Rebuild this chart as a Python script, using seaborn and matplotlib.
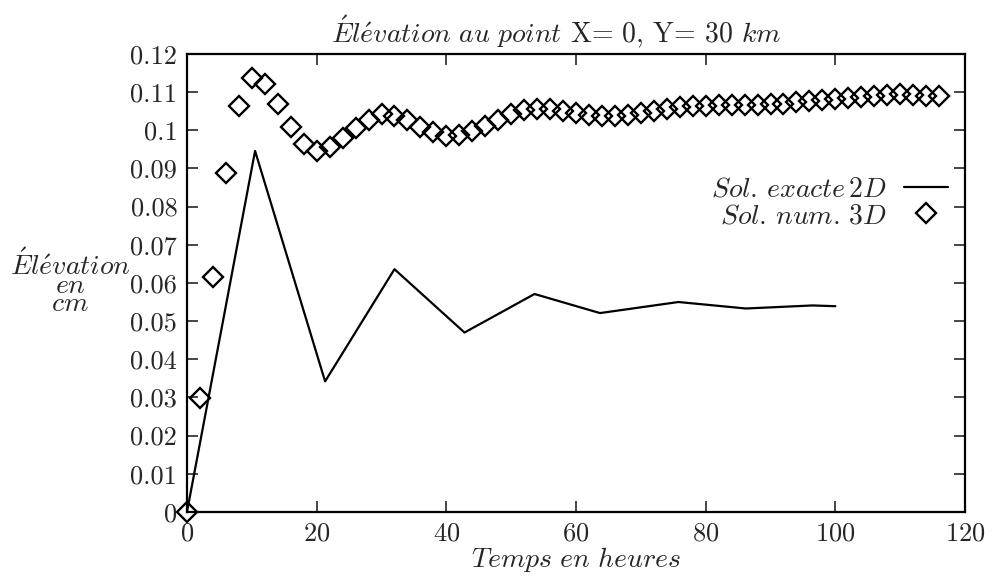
import matplotlib
matplotlib.use("Agg")
import matplotlib.pyplot as plt
import numpy as np
import pandas as pd
import seaborn as sns

# exact 2D solution (piecewise linear curve)
t_exact = [0, 10.5, 21.3, 32.0, 42.8, 53.6, 63.7, 75.8, 86.2, 96.5, 100]
h_exact = [0.0, 0.0946, 0.0342, 0.0636, 0.0470, 0.0571, 0.0521, 0.0550, 0.0533, 0.0541, 0.0539]

# numerical 3D solution, one point every 2 hours
t_num = list(range(0, 117, 2))
h_num = [0.0, 0.0298, 0.0616, 0.0888, 0.1063, 0.1137, 0.1122, 0.1069, 0.1008, 0.0964,
         0.0945, 0.0955, 0.0980, 0.1005, 0.1028, 0.1043, 0.1037, 0.1028, 0.1009, 0.0995,
         0.0986, 0.0988, 0.0997, 0.1012, 0.1028, 0.1042, 0.1052, 0.1056, 0.1055, 0.1050,
         0.1045, 0.1040, 0.1037, 0.1037, 0.1040, 0.1045, 0.1050, 0.1055, 0.1060, 0.1063,
         0.1065, 0.1066, 0.1066, 0.1066, 0.1066, 0.1068, 0.1070, 0.1073, 0.1076, 0.1079,
         0.1082, 0.1085, 0.1088, 0.1091, 0.1093, 0.1094, 0.1093, 0.1091, 0.1089]

xticks = [0, 20, 40, 60, 80, 100, 120]
yticks = [0, 0.01, 0.02, 0.03, 0.04, 0.05, 0.06, 0.07, 0.08, 0.09, 0.1, 0.11, 0.12]
yticklabels = ["0", "0.01", "0.02", "0.03", "0.04", "0.05", "0.06", "0.07", "0.08",
               "0.09", "0.1", "0.11", "0.12"]

sns.set_style("ticks")
plt.rcParams["font.family"] = ["cmr10", "DejaVu Serif"]
plt.rcParams["mathtext.fontset"] = "cm"
plt.rcParams["axes.formatter.use_mathtext"] = True
plt.rcParams["axes.unicode_minus"] = False

fig = plt.figure(figsize=(10, 5.87), dpi=100)
ax = fig.add_axes([0.187, 0.128, 0.778, 0.780])

exact = pd.DataFrame({"t": t_exact, "h": h_exact})
num = pd.DataFrame({"t": t_num, "h": h_num})

sns.lineplot(data=exact, x="t", y="h", ax=ax, color="black", lw=1.6,
             label=r"$Sol.\,exacte\,2D$")
sns.lineplot(data=num, x="t", y="h", ax=ax, color="black", ls="", marker="D",
             markersize=10, mfc="none", mec="black", mew=1.7, clip_on=False,
             label=r"$Sol.\,num.\,3D$")

ax.set_xlim(0, 120)
ax.set_ylim(0, 0.12)
ax.set_xticks(xticks)
ax.set_yticks(yticks)
ax.set_yticklabels(yticklabels)
ax.tick_params(direction="in", top=True, right=True, length=8, width=1.2,
               labelsize=19, pad=7)
for s in ax.spines.values():
    s.set_linewidth(1.6)
    s.set_color("black")

ax.set_xlabel(r"$Temps\ en\ heures$", fontsize=20, labelpad=0)
ax.set_ylabel(r"$\acute{E}l\acute{e}vation$" + "\n" + r"$en$" + "\n" + r"$cm$",
              rotation=0, fontsize=20, linespacing=0.6, va="center")
ax.yaxis.set_label_coords(-0.15, 0.50)
ax.set_title(r"$\acute{E}l\acute{e}vation\ au\ point$ X= 0, Y= 30 $km$",
             fontsize=20, x=0.475, pad=8)

leg = ax.legend(loc="upper right", bbox_to_anchor=(1.0, 0.77), frameon=False,
                markerfirst=False, fontsize=20, handlelength=1.6,
                handletextpad=0.6, labelspacing=0.02, borderaxespad=0.2)

fig.savefig("out.png", dpi=100)
